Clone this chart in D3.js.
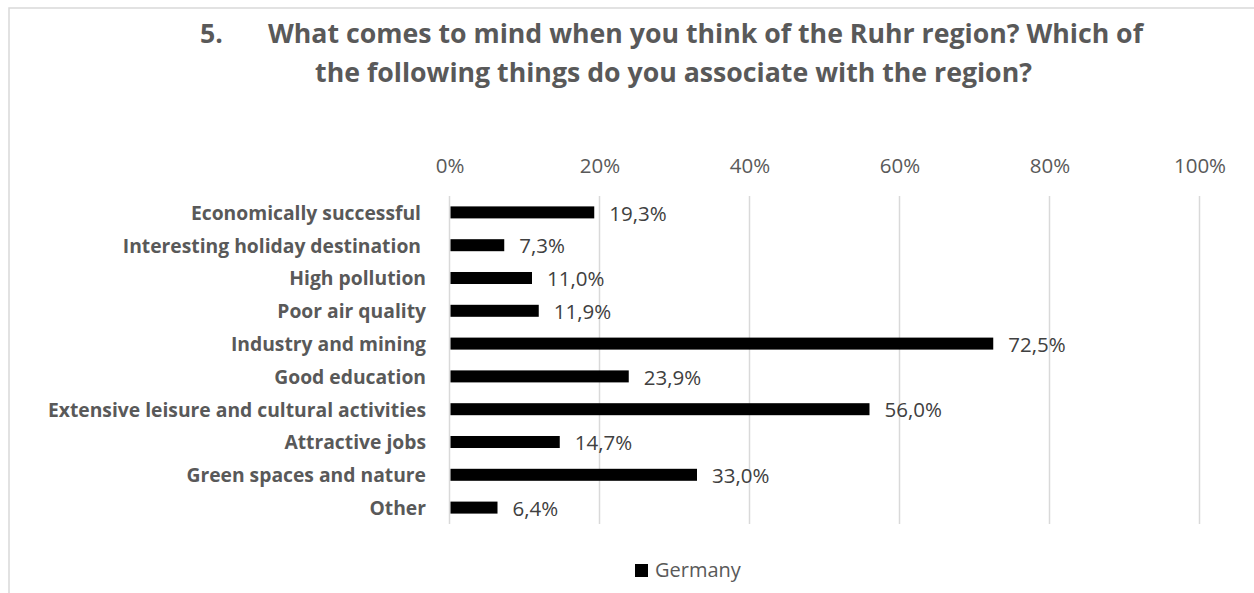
<!DOCTYPE html>
<html>
<head>
<meta charset="utf-8">
<script src="https://cdn.jsdelivr.net/npm/d3@7/dist/d3.min.js"></script>
<style>
  html, body { margin: 0; padding: 0; background: #fff; }
  svg { display: block; font-family: "Open Sans", sans-serif; }
</style>
</head>
<body>
<svg id="chart" width="1254" height="593"></svg>
<script>
// Survey answers, share of respondents (Germany)
const categories = [
  "Economically successful ",
  "Interesting holiday destination ",
  "High pollution",
  "Poor air quality",
  "Industry and mining",
  "Good education",
  "Extensive leisure and cultural activities",
  "Attractive jobs",
  "Green spaces and nature",
  "Other"
];
const values = [19.3, 7.3, 11.0, 11.9, 72.5, 23.9, 56.0, 14.7, 33.0, 6.4];
const tickValues = [0, 20, 40, 60, 80, 100];
const seriesName = "Germany";
const titleNumber = "5.";
const titleLines = [
  "What comes to mind when you think of the Ruhr region? Which of",
  "the following things do you associate with the region?"
];

const svg = d3.select("#chart");

// outer chart frame
svg.append("rect")
  .attr("x", 9).attr("y", 8)
  .attr("width", 1260).attr("height", 600)
  .attr("fill", "none").attr("stroke", "#d9d9d9").attr("stroke-width", 1.5);

const x = d3.scaleLinear().domain([0, 100]).range([449.5, 1199.5]);
const y = d3.scaleBand().domain(categories).range([196, 524]).paddingInner(0.634).paddingOuter(0.317);

// title: numbered first line, centred second line
const title = svg.append("g")
  .attr("font-size", 26.7).attr("font-weight", 700).attr("fill", "#595959");
title.append("text").attr("x", 200).attr("y", 43).text(titleNumber);
title.append("text").attr("x", 268).attr("y", 43).text(titleLines[0]);
title.append("text").attr("x", 673.5).attr("y", 82).attr("text-anchor", "middle").text(titleLines[1]);

// vertical gridlines
svg.append("g").selectAll("line").data(tickValues).join("line")
  .attr("x1", d => x(d)).attr("x2", d => x(d))
  .attr("y1", 196).attr("y2", 524)
  .attr("stroke", "#d9d9d9").attr("stroke-width", 1.5);

// top axis labels
const xAxis = d3.axisTop(x).tickValues(tickValues).tickFormat(d => d + "%").tickSize(0).tickPadding(0);
const gx = svg.append("g").attr("transform", "translate(0,173)").call(xAxis);
gx.select(".domain").remove();
gx.selectAll("text").attr("font-size", 20.5).attr("fill", "#595959")
  .attr("font-family", "Open Sans, sans-serif").attr("dy", 0);

// category labels
const yAxis = d3.axisLeft(y).tickSize(0).tickPadding(0);
const gy = svg.append("g").attr("transform", "translate(426,0)").call(yAxis);
gy.select(".domain").remove();
gy.selectAll("text").attr("font-size", 19.3).attr("font-weight", 700).attr("fill", "#595959")
  .attr("font-family", "Open Sans, sans-serif").attr("dy", "0.38em").style("white-space", "pre");

// bars
svg.append("g").selectAll("rect").data(values).join("rect")
  .attr("x", x(0) + 1)
  .attr("y", (d, i) => y(categories[i]))
  .attr("width", d => x(d) - x(0) - 1)
  .attr("height", y.bandwidth())
  .attr("fill", "#000");

// value labels
svg.append("g").selectAll("text").data(values).join("text")
  .attr("x", d => x(d) + 15)
  .attr("y", (d, i) => y(categories[i]) + y.bandwidth() / 2)
  .attr("dy", "0.4em")
  .attr("font-size", 20.5).attr("fill", "#404040")
  .text(d => d.toFixed(1).replace(".", ",") + "%");

// legend
const lg = svg.append("g");
lg.append("rect").attr("x", 635).attr("y", 564).attr("width", 13).attr("height", 13).attr("fill", "#000");
lg.append("text").attr("x", 655).attr("y", 577).attr("font-size", 20).attr("fill", "#595959").text(seriesName);
</script>
</body>
</html>
